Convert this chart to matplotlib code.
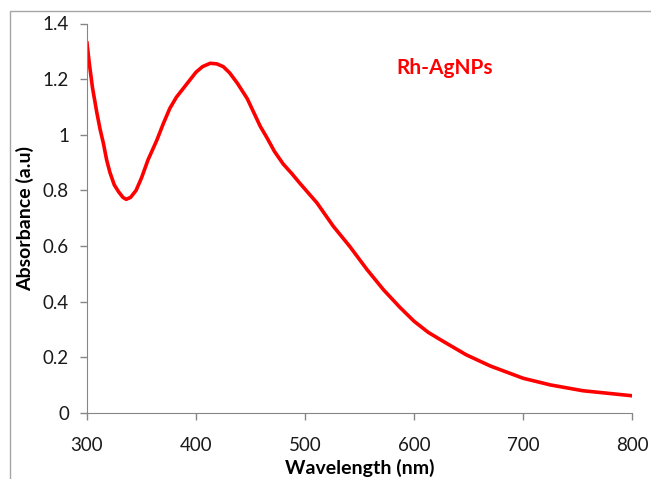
import matplotlib
matplotlib.use("Agg")
import matplotlib.pyplot as plt
from matplotlib.patches import Rectangle

# UV-vis spectrum
wavelength = [300, 302, 305, 309, 312, 315, 318, 321, 325, 329, 333, 336,
              340, 345, 350, 356, 364, 370, 376, 382, 388, 394, 400, 406,
              413, 419, 425, 431, 438, 447, 453, 459, 465, 472, 480, 488,
              495, 511, 526, 541, 557, 572, 587, 600, 613, 627, 648, 670,
              700, 725, 755, 800]
absorbance = [1.33, 1.26, 1.17, 1.08, 1.02, 0.97, 0.91, 0.865, 0.82, 0.795,
              0.775, 0.768, 0.775, 0.80, 0.845, 0.91, 0.98, 1.04, 1.095,
              1.135, 1.165, 1.195, 1.225, 1.245, 1.257, 1.255, 1.245, 1.222,
              1.185, 1.13, 1.08, 1.03, 0.99, 0.94, 0.895, 0.86, 0.827, 0.755,
              0.671, 0.599, 0.515, 0.443, 0.38, 0.33, 0.29, 0.257, 0.209,
              0.169, 0.125, 0.101, 0.080, 0.062]

xticks = [300, 400, 500, 600, 700, 800]
yticks = [0, 0.2, 0.4, 0.6, 0.8, 1.0, 1.2, 1.4]
ylabels = ["0", "0.2", "0.4", "0.6", "0.8", "1", "1.2", "1.4"]

plt.rcParams['font.family'] = ['Lato', 'DejaVu Sans']

fig = plt.figure(figsize=(6.51, 4.79), dpi=100)
# outer frame of the original chart (cut off at right/bottom)
fig.patches.append(Rectangle((10/651, -0.2), 2, 1 - 11/479 + 0.2,
                             transform=fig.transFigure, fill=False,
                             edgecolor='#a6a6a6', linewidth=1))
ax = fig.add_axes([87/651, 1 - 413/479, 545/651, 389.5/479])

ax.plot(wavelength, absorbance, color='#ff0000', linewidth=2.6,
        solid_joinstyle='round')
ax.text(628, 1.22, 'Rh-AgNPs', color='#ff0000', fontsize=15,
        fontweight='bold', ha='center', va='baseline')

ax.set_xlim(300, 800)
ax.set_ylim(0, 1.4)
ax.set_xticks(xticks)
ax.set_yticks(yticks)
ax.set_yticklabels(ylabels)
ax.tick_params(labelsize=13.5, colors='#868686', labelcolor='#1a1a1a',
               length=5, width=1)
ax.tick_params(axis='x', pad=12)
ax.tick_params(axis='y', pad=8)
for s in ['top', 'right']:
    ax.spines[s].set_visible(False)
for s in ['left', 'bottom']:
    ax.spines[s].set_color('#868686')
ax.set_xlabel('Wavelength (nm)', fontsize=14, fontweight='bold', labelpad=4)
ax.set_ylabel('Absorbance (a.u)', fontsize=14, fontweight='bold', labelpad=6)

fig.savefig('out.png', dpi=100)
